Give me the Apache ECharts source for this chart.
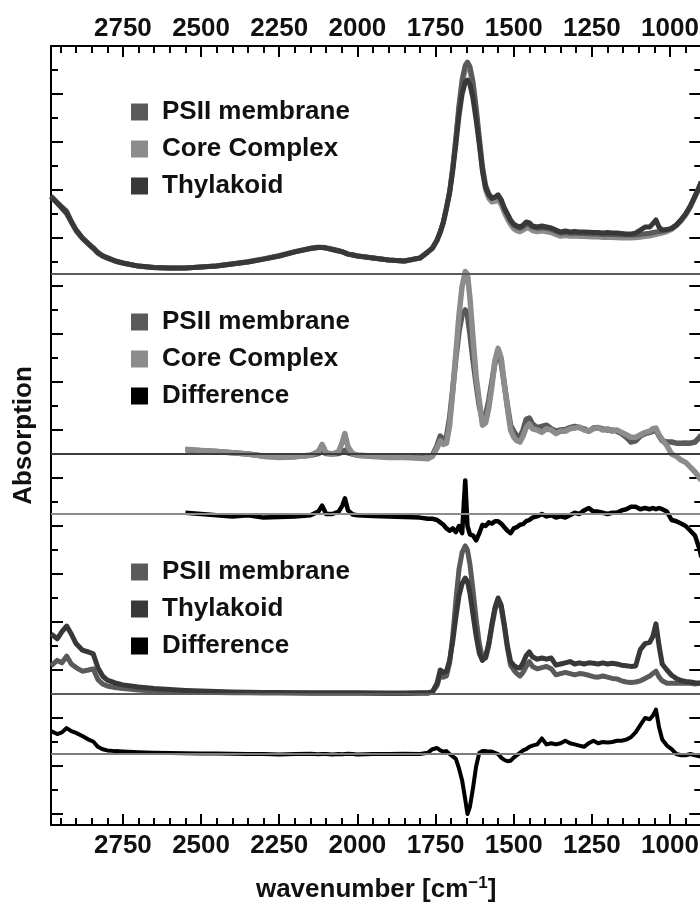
<!DOCTYPE html>
<html><head><meta charset="utf-8">
<script src="https://cdn.jsdelivr.net/npm/echarts@6/dist/echarts.min.js"></script>
<style>html,body{margin:0;padding:0;background:#fff}#chart{width:700px;height:902px}</style>
</head><body><div id="chart"></div>
<script>
// ---------- DATA ----------
const wavenumbers = [2980,2960,2945,2930,2915,2900,2880,2860,2845,2830,
2815,2800,2775,2750,2700,2650,2600,2550,2500,2450,
2400,2350,2300,2250,2200,2150,2125,2113,2100,2080,
2060,2048,2040,2030,2015,2000,1950,1900,1850,1800,
1775,1760,1745,1735,1725,1715,1705,1695,1685,1675,
1665,1655,1648,1640,1630,1620,1610,1600,1590,1580,
1570,1560,1550,1540,1530,1520,1510,1500,1490,1480,
1470,1460,1450,1440,1425,1410,1395,1380,1365,1350,
1335,1320,1305,1290,1275,1260,1245,1230,1215,1200,
1185,1170,1155,1140,1125,1110,1095,1080,1065,1055,
1045,1035,1025,1010,995,980,965,950,935,920,
905,900];

const xMajorTicks = [1000,1250,1500,1750,2000,2250,2500,2750];
const xMinorTicks = [950,1050,1100,1150,1200,1300,1350,1400,1450,1550,1600,1650,1700,1800,1850,1900,1950,2050,2100,2150,2200,2300,2350,2400,2450,2550,2600,2650,2700,2800,2850,2900,2950];
const yMajorTicks = [0,2,4,6,8,10,12,14,16,18,20,22,24,26,28,30,32];
const yMinorTicks = [1,3,5,7,9,11,13,15,17,19,21,23,25,27,29,31];

// Panel 1 (top)
const p1Thylakoid = [3.21,2.96,2.75,2.54,2.17,1.83,1.5,1.25,1.08,0.88,
0.75,0.67,0.54,0.46,0.33,0.27,0.25,0.25,0.29,0.33,
0.42,0.5,0.62,0.75,0.92,1.06,1.1,1.1,1.08,1.02,
0.96,0.92,0.88,0.83,0.79,0.75,0.67,0.58,0.54,0.67,
0.92,1.08,1.42,1.75,2.17,2.75,3.38,4.3,5.4,6.6,
7.5,8.0,8.08,7.9,7.3,6.4,5.4,4.3,3.6,3.3,
3.15,3.2,3.3,3.1,2.75,2.5,2.25,2.08,2.0,1.96,
2.04,2.17,2.13,2.0,1.96,2.0,1.96,1.92,1.83,1.75,
1.79,1.75,1.77,1.75,1.75,1.74,1.73,1.73,1.71,1.73,
1.71,1.71,1.69,1.67,1.67,1.7,1.83,1.96,1.96,2.1,
2.25,1.95,1.83,1.85,1.9,2.04,2.25,2.5,2.83,3.25,
3.67,3.85];
const p1PSII = [3.25,2.98,2.8,2.62,2.2,1.85,1.52,1.27,1.1,0.9,
0.77,0.68,0.55,0.46,0.33,0.27,0.25,0.25,0.29,0.33,
0.42,0.5,0.62,0.75,0.92,1.06,1.1,1.1,1.08,1.02,
0.96,0.92,0.88,0.83,0.79,0.75,0.67,0.58,0.54,0.67,
0.92,1.08,1.42,1.75,2.17,2.78,3.45,4.45,5.7,7.05,
8.1,8.7,8.83,8.65,8.0,6.95,5.7,4.5,3.7,3.35,
3.18,3.2,3.25,3.05,2.72,2.45,2.2,2.03,1.95,1.9,
1.97,2.08,2.05,1.95,1.9,1.93,1.9,1.86,1.77,1.7,
1.73,1.7,1.71,1.69,1.69,1.68,1.67,1.67,1.65,1.66,
1.65,1.64,1.63,1.62,1.62,1.63,1.65,1.68,1.7,1.73,
1.75,1.77,1.79,1.83,1.9,2.04,2.25,2.5,2.83,3.25,
3.67,3.85];
const p1Core = [3.2,2.95,2.73,2.5,2.15,1.8,1.48,1.23,1.06,0.87,
0.74,0.66,0.53,0.45,0.32,0.26,0.24,0.25,0.29,0.34,
0.43,0.52,0.64,0.77,0.94,1.08,1.13,1.12,1.1,1.04,
0.98,0.93,0.89,0.84,0.8,0.76,0.67,0.58,0.53,0.65,
0.9,1.06,1.4,1.72,2.13,2.72,3.4,4.4,5.6,6.9,
7.9,8.5,8.6,8.45,7.8,6.75,5.5,4.3,3.5,3.15,
3.0,3.02,3.08,2.88,2.55,2.28,2.05,1.88,1.8,1.76,
1.82,1.92,1.9,1.8,1.76,1.79,1.76,1.72,1.64,1.57,
1.6,1.57,1.58,1.56,1.56,1.55,1.54,1.54,1.52,1.53,
1.52,1.51,1.5,1.5,1.5,1.51,1.53,1.56,1.58,1.61,
1.64,1.67,1.7,1.76,1.85,2.0,2.2,2.45,2.78,3.2,
3.6,3.8];

// Panel 2 (PSII vs core)
const p2PSII = [null,null,null,null,null,null,null,null,null,null,
null,null,null,null,null,null,null,0.18,0.14,0.1,
0.05,0.0,-0.08,-0.12,-0.1,-0.05,0.02,0.1,0.02,0.0,
0.02,0.08,0.15,0.05,0.0,-0.05,-0.08,-0.12,-0.12,-0.15,
-0.18,-0.05,0.35,0.75,0.6,0.7,1.5,2.7,4.0,5.1,
5.8,6.0,5.8,5.0,3.9,2.9,2.0,1.4,1.6,2.2,
3.0,3.8,4.2,3.8,2.9,2.0,1.2,0.95,0.75,0.7,
1.0,1.45,1.5,1.25,1.1,1.15,1.2,1.05,0.95,1.0,
1.02,1.1,1.15,1.1,1.05,0.95,1.08,1.1,1.05,1.0,
1.0,0.95,0.85,0.7,0.5,0.55,0.75,0.85,0.9,0.95,
1.0,0.75,0.55,0.5,0.5,0.45,0.45,0.46,0.45,0.5,
0.7,0.8];
const p2Core = [null,null,null,null,null,null,null,null,null,null,
null,null,null,null,null,null,null,0.2,0.15,0.1,
0.05,0.0,-0.1,-0.15,-0.12,-0.05,0.1,0.4,0.05,0.0,
0.1,0.5,0.85,0.3,0.0,-0.05,-0.1,-0.15,-0.15,-0.18,
-0.2,-0.1,0.25,0.55,0.4,0.45,1.2,2.6,4.2,5.8,
7.0,7.6,7.5,6.5,4.8,3.2,2.2,1.2,1.3,1.9,
2.8,3.9,4.4,4.0,2.9,1.9,1.0,0.7,0.55,0.5,
0.75,1.1,1.25,1.05,1.0,0.9,1.05,1.0,0.85,0.95,
0.95,1.05,1.08,1.12,1.0,0.95,1.05,1.1,1.0,1.05,
0.95,1.0,0.9,0.8,0.7,0.7,0.8,0.9,0.95,1.05,
1.08,0.8,0.6,0.35,0.0,-0.1,-0.25,-0.35,-0.55,-0.75,
-1.0,-1.1];
const diff1 = [null,null,null,null,null,null,null,null,null,null,
null,null,null,null,null,null,null,0.05,0.0,-0.05,
-0.1,-0.05,-0.15,-0.12,-0.1,-0.05,0.1,0.35,0.0,0.0,
0.1,0.35,0.65,0.15,-0.02,-0.05,-0.08,-0.1,-0.12,-0.15,
-0.2,-0.2,-0.25,-0.35,-0.45,-0.6,-0.7,-0.6,-0.75,-0.5,
-0.8,1.4,-0.5,-0.85,-0.9,-1.1,-0.8,-0.45,-0.5,-0.35,
-0.4,-0.3,-0.3,-0.4,-0.55,-0.7,-0.8,-0.6,-0.55,-0.45,
-0.42,-0.3,-0.25,-0.15,-0.1,0.0,-0.1,-0.05,-0.15,-0.1,
-0.15,-0.05,0.05,0.0,0.15,0.25,0.1,0.1,0.05,0.0,
0.05,0.05,0.15,0.2,0.3,0.3,0.2,0.25,0.2,0.25,
0.2,0.25,0.2,0.1,-0.25,-0.3,-0.4,-0.5,-0.7,-0.9,
-1.5,-1.8];

// Panel 3 (PSII vs thylakoid)
const p3Thylakoid = [2.5,2.3,2.6,2.83,2.5,2.1,1.83,1.75,1.67,1.1,
0.75,0.58,0.46,0.38,0.29,0.23,0.19,0.15,0.12,0.1,
0.08,0.07,0.06,0.06,0.05,0.05,0.05,0.05,0.05,0.05,
0.05,0.05,0.05,0.05,0.05,0.05,0.04,0.04,0.04,0.05,
0.05,0.1,0.45,1.0,0.9,0.95,1.4,2.2,3.2,4.1,
4.6,4.83,4.7,4.2,3.3,2.4,1.7,1.4,1.55,2.1,
2.9,3.6,4.0,3.7,2.9,2.0,1.35,1.2,1.1,1.08,
1.3,1.6,1.75,1.55,1.45,1.5,1.45,1.5,1.2,1.25,
1.3,1.35,1.25,1.3,1.25,1.3,1.28,1.25,1.3,1.25,
1.28,1.25,1.2,1.18,1.15,1.17,1.85,2.1,2.15,2.4,
2.92,2.0,1.25,1.0,0.78,0.65,0.56,0.52,0.5,0.47,
0.46,0.45];
const p3PSII = [1.17,1.4,1.3,1.58,1.25,1.1,0.95,1.0,1.05,0.6,
0.42,0.33,0.27,0.23,0.17,0.13,0.1,0.08,0.07,0.06,
0.05,0.05,0.04,0.04,0.04,0.03,0.03,0.03,0.03,0.03,
0.03,0.03,0.03,0.03,0.03,0.03,0.03,0.02,0.02,0.03,
0.03,0.08,0.35,0.8,0.7,0.75,1.3,2.4,3.9,5.2,
5.9,6.17,6.0,5.4,4.3,3.1,2.1,1.5,1.5,2.0,
2.8,3.5,3.9,3.6,2.8,1.9,1.2,1.0,0.85,0.75,
0.9,1.15,1.35,1.15,1.05,1.1,1.15,1.05,0.8,0.85,
0.9,0.85,0.8,0.85,0.83,0.78,0.72,0.7,0.75,0.7,
0.65,0.63,0.55,0.5,0.48,0.5,0.55,0.65,0.75,0.85,
0.95,0.7,0.55,0.45,0.45,0.45,0.45,0.45,0.45,0.42,
0.45,0.45];
const diff2 = [0.96,0.83,0.9,1.08,0.95,0.88,0.75,0.6,0.52,0.3,
0.2,0.15,0.12,0.1,0.07,0.05,0.04,0.03,0.02,0.02,
0.01,0.0,0.0,-0.02,0.0,0.01,-0.01,0.0,0.0,-0.02,
0.0,-0.01,0.0,0.01,0.0,-0.02,0.0,0.0,0.01,0.0,
0.05,0.2,0.25,0.15,0.1,0.12,0.0,-0.1,-0.2,-0.6,
-1.1,-1.9,-2.5,-2.2,-1.4,-0.5,0.05,0.12,0.12,0.1,
0.1,0.05,0.0,-0.15,-0.25,-0.3,-0.28,-0.15,-0.05,0.05,
0.15,0.2,0.3,0.35,0.4,0.65,0.4,0.45,0.4,0.45,
0.55,0.45,0.4,0.35,0.3,0.45,0.55,0.45,0.5,0.48,
0.5,0.55,0.55,0.6,0.7,0.9,1.2,1.5,1.45,1.6,
1.85,1.1,0.6,0.35,0.2,0.0,-0.05,-0.05,0.0,-0.05,
-0.1,-0.1];

// ---------- LAYOUT / STYLE ----------
const panelOffsets = {p1: 22.5, p2: 15, d1: 12.5, p3: 5, d2: 2.5};
const COLORS = {'PSII membrane': '#5a5a5a', 'Core Complex': '#8c8c8c', 'Thylakoid': '#383838', 'Difference': '#000000'};
const FONT = '"Liberation Sans", Arial, Helvetica, sans-serif';

function pts(vals, off) {
  const out = [];
  wavenumbers.forEach((w, i) => { if (vals[i] != null) out.push([w, +(vals[i] + off).toFixed(4)]); });
  return out;
}
function baseline(off, color) {
  return { silent: true, symbol: 'none', label: {show: false},
    lineStyle: {color: color, width: 2, type: 'solid'}, data: [{yAxis: off}] };
}
function line(name, vals, off, width, z, mark) {
  const s = { name: name, type: 'line', data: pts(vals, off), showSymbol: false, symbol: 'none',
    color: COLORS[name], itemStyle: {color: COLORS[name]},
    lineStyle: {color: COLORS[name], width: width, join: 'round'}, z: z, clip: true, animation: false };
  if (mark) s.markLine = mark;
  return s;
}

const series = [
  line('Core Complex', p1Core, panelOffsets.p1, 5, 2, baseline(panelOffsets.p1, '#5c5c5c')),
  line('PSII membrane', p1PSII, panelOffsets.p1, 5, 3),
  line('Thylakoid', p1Thylakoid, panelOffsets.p1, 5, 4),
  line('PSII membrane', p2PSII, panelOffsets.p2, 5.5, 3, baseline(panelOffsets.p2, '#3c3c3c')),
  line('Core Complex', p2Core, panelOffsets.p2, 5.5, 4),
  line('Difference', diff1, panelOffsets.d1, 4.5, 4, baseline(panelOffsets.d1, '#8c8c8c')),
  line('PSII membrane', p3PSII, panelOffsets.p3, 5, 3, baseline(panelOffsets.p3, '#5c5c5c')),
  line('Thylakoid', p3Thylakoid, panelOffsets.p3, 5, 4),
  line('Difference', diff2, panelOffsets.d2, 4, 4, baseline(panelOffsets.d2, '#7c7c7c'))
];

const legendCommon = {
  orient: 'vertical', left: 131, itemWidth: 17, itemHeight: 17, itemGap: 3, padding: 0,
  selectedMode: false, icon: 'rect', lineStyle: {opacity: 0, width: 0},
  textStyle: {fontSize: 26, fontWeight: 'bold', fontFamily: FONT, color: '#111', lineHeight: 26, padding: [0, 0, 8, 9]}
};

const X_MIN = 900, X_MAX = 2980, Y_MIN = -11 / 24, Y_MAX = 32;
const lblStyle = {fontSize: 26, fontWeight: 'bold', fontFamily: FONT, color: '#111'};
function xAx(pos, ticks, len, showLabels, showLine) {
  return { type: 'value', position: pos, min: X_MIN, max: X_MAX, inverse: true, gridIndex: 0,
    axisLine: {show: showLine, onZero: false, lineStyle: {color: '#000', width: 2}},
    axisTick: {show: true, inside: true, length: len, customValues: ticks, lineStyle: {color: '#000', width: 2}},
    axisLabel: showLabels ? Object.assign({show: true, customValues: ticks, formatter: v => String(v), margin: pos === 'top' ? 4 : 8}, lblStyle) : {show: false},
    splitLine: {show: false} };
}
function yAx(pos, ticks, len, showLine) {
  return { type: 'value', position: pos, min: Y_MIN, max: Y_MAX, gridIndex: 0,
    axisLine: {show: showLine, onZero: false, lineStyle: {color: '#000', width: 2}},
    axisTick: {show: true, inside: true, length: len, customValues: ticks, lineStyle: {color: '#000', width: 2}},
    axisLabel: {show: false}, splitLine: {show: false} };
}

const xAxes = [
  Object.assign(xAx('bottom', xMajorTicks, 11, true, true), {
    name: '{a|wavenumber [cm}{s|−1}{a|]}', nameLocation: 'middle', nameGap: 50,
    nameTextStyle: {rich: {
      a: {fontSize: 26, fontWeight: 'bold', fontFamily: FONT, color: '#111', lineHeight: 30},
      s: {fontSize: 17, fontWeight: 'bold', fontFamily: FONT, color: '#111', verticalAlign: 'top', lineHeight: 18}
    }}
  }),
  xAx('bottom', xMinorTicks, 7, false, false),
  xAx('top', xMajorTicks, 11, true, true),
  xAx('top', xMinorTicks, 7, false, false)
];
const yAxes = [
  Object.assign(yAx('left', yMajorTicks, 12, true), {
    name: 'Absorption', nameLocation: 'middle', nameGap: 14, nameRotate: 90,
    nameTextStyle: {fontSize: 26, fontWeight: 'bold', fontFamily: FONT, color: '#111'}
  }),
  yAx('left', yMinorTicks, 7, false),
  yAx('right', yMajorTicks, 12, true),
  yAx('right', yMinorTicks, 7, false)
];

const chart = echarts.init(document.getElementById('chart'), null, {renderer: 'canvas'});
chart.setOption({
  backgroundColor: '#ffffff',
  animation: false,
  grid: {left: 51, right: -1.3, top: 46, bottom: 77, containLabel: false, outerBoundsMode: 'none'},
  xAxis: xAxes,
  yAxis: yAxes,
  legend: [
    Object.assign({data: ['PSII membrane', 'Core Complex', 'Thylakoid'], top: 95}, legendCommon),
    Object.assign({data: ['PSII membrane', 'Core Complex', 'Difference'], top: 305}, legendCommon),
    Object.assign({data: ['PSII membrane', 'Thylakoid', 'Difference'], top: 555}, legendCommon)
  ],
  series: series
});
</script>
</body></html>
